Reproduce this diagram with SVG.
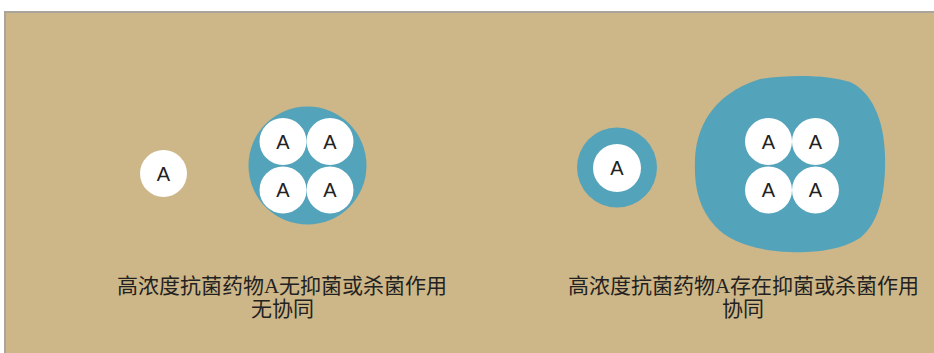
<svg xmlns="http://www.w3.org/2000/svg" width="934" height="353" viewBox="0 0 934 353">
  <defs>
    <style>
      .bg { fill: #cdb687; }
      .blue { fill: #53a3bb; }
      .cell { fill: #ffffff; }
      .a { font-family: "Liberation Sans", "Noto Sans", sans-serif; font-size: 20px; fill: #222222; text-anchor: middle; }
      .lbl { font-family: "Liberation Serif", "Noto Sans CJK SC", serif; font-size: 21px; fill: #222222; text-anchor: middle; }
    </style>
  </defs>
  <rect x="0" y="0" width="934" height="353" fill="#ffffff"/>
  <rect x="4" y="11" width="930" height="342" fill="#a9a59c"/>
  <rect class="bg" x="6" y="13" width="928" height="340"/>

  <g id="single-a-left">
    <circle class="cell" cx="163.5" cy="173.5" r="23.5"/>
    <text class="a" x="163.5" y="180.5">A</text>
  </g>

  <g id="group-left">
    <circle class="blue" cx="307.5" cy="165.5" r="59"/>
    <circle class="cell" cx="283" cy="141.5" r="23.5"/>
    <circle class="cell" cx="330" cy="141.5" r="23.5"/>
    <circle class="cell" cx="283" cy="190" r="23.5"/>
    <circle class="cell" cx="330" cy="190" r="23.5"/>
    <text class="a" x="283" y="148.5">A</text>
    <text class="a" x="330" y="148.5">A</text>
    <text class="a" x="283" y="197">A</text>
    <text class="a" x="330" y="197">A</text>
  </g>

  <g id="single-a-right">
    <circle class="blue" cx="617" cy="167.5" r="40"/>
    <circle class="cell" cx="617" cy="168" r="24"/>
    <text class="a" x="617" y="175">A</text>
  </g>

  <g id="group-right">
    <path class="blue" d="M 760 79 C 790 74, 830 75, 850 82 C 872 92, 884 120, 885 155 C 886 190, 880 222, 860 238 C 840 251, 810 253, 790 252 C 760 251, 730 243, 715 226 C 698 207, 694 185, 695 160 C 696 130, 710 95, 760 79 Z"/>
    <circle class="cell" cx="768.5" cy="141.5" r="23.5"/>
    <circle class="cell" cx="815.5" cy="141.5" r="23.5"/>
    <circle class="cell" cx="768.5" cy="190" r="23.5"/>
    <circle class="cell" cx="815.5" cy="190" r="23.5"/>
    <text class="a" x="768.5" y="148.5">A</text>
    <text class="a" x="815.5" y="148.5">A</text>
    <text class="a" x="768.5" y="197">A</text>
    <text class="a" x="815.5" y="197">A</text>
  </g>

  <g id="label-left">
    <text class="lbl" x="282" y="293">高浓度抗菌药物A无抑菌或杀菌作用</text>
    <text class="lbl" x="282.5" y="316">无协同</text>
  </g>

  <g id="label-right">
    <text class="lbl" x="743.5" y="293">高浓度抗菌药物A存在抑菌或杀菌作用</text>
    <text class="lbl" x="743" y="316">协同</text>
  </g>
</svg>
